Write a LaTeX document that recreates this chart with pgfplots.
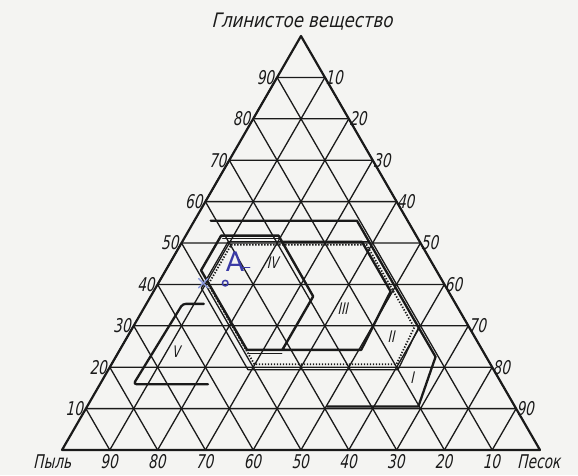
\documentclass[border=0pt]{standalone}
\usepackage{fontspec}
\setmainfont{DejaVu Sans}[FakeStretch=0.72, FakeSlant=0.08]
\newfontfamily\titlefont{DejaVu Sans}[FakeStretch=0.83, FakeSlant=0.08]
\newfontfamily\handfont{DejaVu Sans}
\usepackage{pgfplots}
\usepackage{pgfplotstable}
\pgfplotsset{compat=1.18}

\definecolor{ink}{HTML}{1A1A1A}
\definecolor{paper}{HTML}{F4F4F2}
\definecolor{pen}{HTML}{3A3AA6}
\definecolor{penlight}{HTML}{8C9ADC}

\tikzset{
  lbl/.style={font=\fontsize{19}{19}\selectfont\itshape, text=ink, inner sep=0pt},
  rom/.style={font=\fontsize{16}{16}\selectfont\itshape, text=ink, inner sep=0pt},
}
% ternary -> cartesian: S = sand %, C = clay %
\pgfplotsset{table/tern/.style={x expr=\thisrow{S}+0.5*\thisrow{C}, y expr=0.8660254*\thisrow{C}}}

% grid lines, each family as one zigzag whose joins run along the triangle's edges
\pgfplotstableread{
S C
0 10
90 10
80 20
0 20
0 30
70 30
60 40
0 40
0 50
50 50
40 60
0 60
0 70
30 70
20 80
0 80
0 90
10 90
}\gridclay
\pgfplotstableread{
S C
10 0
10 90
20 80
20 0
30 0
30 70
40 60
40 0
50 0
50 50
60 40
60 0
70 0
70 30
80 20
80 0
90 0
90 10
}\gridsand
\pgfplotstableread{
S C
90 0
0 90
0 80
80 0
70 0
0 70
0 60
60 0
50 0
0 50
0 40
40 0
30 0
0 30
0 20
20 0
10 0
0 10
}\gridsilt

\begin{document}
\begin{tikzpicture}
\begin{axis}[
    scale only axis, width=578bp, height=475bp,
    xmin=-12.97, xmax=107.95, ymin=-5.23, ymax=94.14,
    hide axis, clip=false,
    every axis plot/.append style={line join=round, line cap=round},
]
\fill[paper] (rel axis cs:0,0) rectangle (rel axis cs:1,1);

% grid
\addplot[ink, line width=1.3bp] table[tern] {\gridclay};
\addplot[ink, line width=1.3bp] table[tern] {\gridsand};
\addplot[ink, line width=1.3bp] table[tern] {\gridsilt};
% triangle
\addplot[ink, line width=2.2bp] table[tern] {
S C
0 0
100 0
0 100
0 0
};

% region I
\addplot[ink, line width=2.3bp] table[tern] {
S C
3.4 55.4
34.0 55.4
66.9 22.5
69.3 10.5
50.2 10.5
};

% region II: outer line and hatched inner line
\addplot[ink, line width=1.3bp] table[tern] {
S C
39.2 50.3
9.6 50.3
9.6 39.1
29.2 19.4
60.6 19.4
59.8 29.6
};
\addplot[ink, line width=1.8bp, dash pattern=on 1.3bp off 1.7bp, line cap=butt] table[tern] {
S C
10.6 49.6
38.9 49.6
58.9 29.6
59.6 20.7
29.9 20.7
10.6 40.0
10.6 49.6
};

% regions III and IV
\addplot[ink, line width=2.4bp] table[tern] {
S C
21.0 50.3
37.6 50.3
49.6 38.3
50.5 24.2
26.6 24.2
7.4 43.4
7.4 51.8
19.4 51.8
34.0 37.1
34.0 24.2
};
\addplot[ink, line width=1.1bp] table[tern] {
S C
8.1 51.0
20.0 51.0
};
\addplot[ink, line width=1.1bp] table[tern] {
S C
27.4 23.4
34.3 23.4
};

% region V
\addplot[ink, line width=2.3bp, rounded corners=3bp] table[tern] {
S C
12.0 35.3
7.6 35.3
7.0 15.9
22.6 15.9
};

% pen marks
\addplot[penlight, line width=1.4bp, only marks, mark=x, mark size=6.5bp] table[tern] {
S C
9.4 40.3
};
\addplot[pen, line width=1.5bp, only marks, mark=o, mark size=2.8bp] table[tern] {
S C
14.0 40.3
};
\addplot[pen, line width=1bp] table[tern] {
S C
15.6 44.0
17.3 44.0
};
\node[font=\handfont\fontsize{27}{27}\selectfont, text=pen, inner sep=0pt] at (axis cs:36.2,39.3) {A};

% region names
\node[rom] at (axis cs:73.4,15.1) {I};
\node[rom] at (axis cs:69.0,23.7) {II};
\node[rom] at (axis cs:58.9,29.6) {III};
\node[rom] at (axis cs:44.2,39.1) {IV};
\node[rom] at (axis cs:24.0,20.6) {V};

% clay (left side)
\foreach \c in {10,20,...,90} {
  \edef\temp{\noexpand\node[lbl, anchor=east, xshift=-2bp] at (axis cs:{0.5*\c},{0.8660254*\c}) {\c};}
  \temp
}
% sand (right side)
\foreach \c in {10,20,...,90} {
  \pgfmathtruncatemacro\s{100-\c}
  \edef\temp{\noexpand\node[lbl, anchor=west, xshift=1bp] at (axis cs:{100-0.5*\c},{0.8660254*\c}) {\s};}
  \temp
}
% silt (base)
\foreach \s in {10,20,...,90} {
  \pgfmathtruncatemacro\p{100-\s}
  \edef\temp{\noexpand\node[lbl, anchor=north, yshift=-4bp] at (axis cs:\s,0) {\p};}
  \temp
}
\node[lbl, anchor=north east] at (axis cs:2.1,-1.0) {Пыль};
\node[lbl, anchor=north west] at (axis cs:95.4,-1.0) {Песок};
\node[font=\titlefont\fontsize{20}{20}\selectfont\itshape, text=ink, inner sep=0pt, anchor=base] at (axis cs:50.4,88.3) {Глинистое вещество};
\end{axis}
\end{tikzpicture}
\end{document}
